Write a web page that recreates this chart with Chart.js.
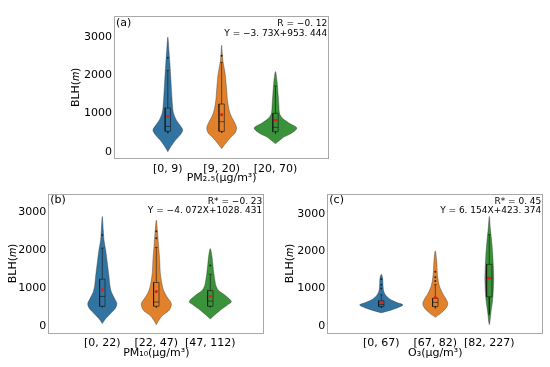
<!DOCTYPE html>
<html>
<head>
<meta charset="utf-8">
<script src="https://cdn.jsdelivr.net/npm/chart.js@4.4.1/dist/chart.umd.min.js"></script>
<style>
body { margin: 0; background: #fff; }
#wrap { position: relative; width: 550px; height: 367px; overflow: hidden; background: #fff; }
canvas { position: absolute; }
</style>
</head>
<body>
<div id="wrap">
  <canvas id="c_a" width="284" height="185" style="left:56px;top:0px;width:284px;height:185px"></canvas>
  <canvas id="c_b" width="275" height="182" style="left:0px;top:185px;width:275px;height:182px"></canvas>
  <canvas id="c_c" width="275" height="182" style="left:275px;top:185px;width:275px;height:182px"></canvas>
</div>
<script>
// shared
var blhTicks = [0, 1000, 2000, 3000];
var violinColors = ['#3274a1', '#e1812c', '#3a923a'];

// (a) PM2.5
var pm25Cats = ['[0, 9)', '[9, 20)', '[20, 70)'];
var pm25Levels = [
  [0, 140, 280, 420, 560, 680, 835, 1010, 1180, 1440, 1880, 2310, 2660, 2990],
  [80, 226, 357, 487, 617, 748, 922, 1096, 1357, 1705, 2053, 2356, 2560, 2780],
  [210, 278, 381, 492, 620, 748, 877, 1005, 1218, 1475, 1817, 2090]
];
var pm25Widths = [
  [0, 0.06, 0.13, 0.22, 0.277, 0.23, 0.155, 0.105, 0.088, 0.075, 0.057, 0.038, 0.02, 0],
  [0, 0.08, 0.157, 0.25, 0.277, 0.245, 0.18, 0.138, 0.107, 0.088, 0.063, 0.025, 0.012, 0],
  [0, 0.063, 0.157, 0.31, 0.396, 0.25, 0.126, 0.075, 0.063, 0.05, 0.031, 0]
];
var pm25Q1 = [530, 530, 522];
var pm25Median = [660, 783, 635];
var pm25Q3 = [1140, 1244, 1000];
var pm25Mean = [921, 965, 826];
var pm25WhiskLo = [480, 490, 470];
var pm25WhiskHi = [2120, 2330, 1710];
var pm25Outliers = [[2450], [2500], []];
var pm25Notes = ['R = \u22120. 12', 'Y = \u22123. 73X+953. 444'];

// (b) PM10
var pm10Cats = ['[0, 22)', '[22, 47)', '[47, 112)'];
var pm10Levels = [
  [60, 198, 328, 457, 586, 716, 888, 1060, 1319, 1664, 2009, 2268, 2526, 2890],
  [30, 155, 285, 414, 586, 759, 931, 1146, 1405, 1750, 2095, 2440, 2790],
  [181, 285, 414, 543, 640, 802, 931, 1060, 1190, 1362, 1578, 1836, 2040]
];
var pm10Widths = [
  [0, 0.068, 0.154, 0.24, 0.27, 0.23, 0.17, 0.142, 0.123, 0.093, 0.062, 0.031, 0.0185, 0],
  [0, 0.05, 0.123, 0.24, 0.278, 0.2, 0.136, 0.1, 0.074, 0.062, 0.043, 0.025, 0],
  [0, 0.08, 0.185, 0.31, 0.39, 0.28, 0.154, 0.105, 0.086, 0.068, 0.05, 0.031, 0]
];
var pm10Q1 = [517, 517, 517];
var pm10Median = [776, 629, 655];
var pm10Q3 = [1233, 1146, 931];
var pm10Mean = [957, 905, 776];
var pm10WhiskLo = [490, 480, 490];
var pm10WhiskHi = [2050, 2070, 1360];
var pm10Outliers = [[2400], [2310, 2500], [1595]];
var pm10Notes = ['R* = \u22120. 23', 'Y = \u22124. 072X+1028. 431'];

// (c) O3
var o3Cats = ['[0, 67)', '[67, 82)', '[82, 227)'];
var o3Levels = [
  [350, 400, 474, 560, 629, 716, 819, 931, 1103, 1276, 1380],
  [230, 328, 457, 586, 716, 845, 1017, 1190, 1405, 1750, 2009],
  [30, 112, 371, 629, 974, 1276, 1578, 1922, 2267, 2612, 2930]
];
var o3Widths = [
  [0, 0.126, 0.28, 0.40, 0.28, 0.157, 0.082, 0.044, 0.031, 0.025, 0],
  [0, 0.094, 0.19, 0.232, 0.2, 0.145, 0.088, 0.057, 0.038, 0.025, 0],
  [0, 0.012, 0.031, 0.057, 0.075, 0.082, 0.075, 0.063, 0.044, 0.019, 0]
];
var o3Q1 = [517, 517, 776];
var o3Median = [569, 629, 1276];
var o3Q3 = [672, 741, 1647];
var o3Mean = [629, 759, 1276];
var o3WhiskLo = [480, 470, 300];
var o3WhiskHi = [830, 1100, 2440];
var o3Outliers = [[1000, 1100, 1250], [1200, 1300, 1450], []];
var o3Notes = ['R* = 0. 45', 'Y = 6. 154X+423. 374'];

var FONT = '"DejaVu Sans", sans-serif';
var BOXW = 0.05;

// frame + corner texts
var framePlugin = {
  id: 'frame',
  afterDraw: function(chart, args, opts) {
    var ctx = chart.ctx, a = chart.chartArea;
    ctx.save();
    ctx.strokeStyle = '#a8a8a8';
    ctx.lineWidth = 1;
    ctx.strokeRect(Math.round(a.left) + 0.5, Math.round(a.top) + 0.5, Math.round(a.right - a.left) - 1, Math.round(a.bottom - a.top) - 1);
    ctx.fillStyle = '#000';
    ctx.textBaseline = 'middle';
    ctx.textAlign = 'left';
    ctx.font = '11px ' + FONT;
    ctx.fillText(opts.tag, a.left + 2, a.top + 7);
    ctx.textAlign = 'right';
    ctx.font = '9px ' + FONT;
    ctx.fillText(opts.notes[0], a.right - 2, a.top + 8);
    ctx.fillText(opts.notes[1], a.right - 2, a.top + 17.5);
    ctx.restore();
  }
};

function line(pts, color, width, order) {
  return { data: pts, showLine: true, fill: false, borderColor: color, borderWidth: width,
           pointRadius: 0, tension: 0, order: order };
}

function makePanel(id, p) {
  var datasets = [];
  for (var i = 0; i < 3; i++) {
    var pos = i + 1;
    var lv = p.levels[i], wd = p.widths[i];
    var right = [], left = [];
    for (var k = 0; k < lv.length; k++) {
      right.push({ x: pos + wd[k], y: lv[k] });
      left.unshift({ x: pos - wd[k], y: lv[k] });
    }
    var shape = right.concat(left.slice(1));
    datasets.push({ data: shape, showLine: true, fill: 'shape', backgroundColor: violinColors[i],
      borderColor: 'rgba(40,40,40,0.45)', borderWidth: 0.8, pointRadius: 0, tension: 0.3, order: 5 });
    // box
    datasets.push(line([
      { x: pos - BOXW, y: p.q1[i] }, { x: pos + BOXW, y: p.q1[i] },
      { x: pos + BOXW, y: p.q3[i] }, { x: pos - BOXW, y: p.q3[i] },
      { x: pos - BOXW, y: p.q1[i] }], 'rgba(20,20,20,0.75)', 0.8, 3));
    datasets.push(line([{ x: pos - BOXW, y: p.median[i] }, { x: pos + BOXW, y: p.median[i] }], 'rgba(20,20,20,0.75)', 0.8, 3));
    datasets.push(line([{ x: pos, y: p.q3[i] }, { x: pos, y: p.whiskHi[i] }], 'rgba(20,20,20,0.75)', 0.8, 3));
    datasets.push(line([{ x: pos, y: p.q1[i] }, { x: pos, y: p.whiskLo[i] }], 'rgba(20,20,20,0.75)', 0.8, 3));
    datasets.push(line([{ x: pos - 0.025, y: p.whiskHi[i] }, { x: pos + 0.025, y: p.whiskHi[i] }], 'rgba(20,20,20,0.75)', 0.8, 3));
    // outliers
    datasets.push({ data: p.outliers[i].map(function(v) { return { x: pos, y: v }; }),
      pointRadius: 1, pointBackgroundColor: '#222', pointBorderWidth: 0, order: 2 });
    // mean
    datasets.push({ data: [{ x: pos, y: p.mean[i] }], pointRadius: 1.6,
      pointBackgroundColor: '#e02020', pointBorderWidth: 0, order: 1 });
  }

  new Chart(document.getElementById(id), {
    type: 'scatter',
    data: { datasets: datasets },
    plugins: [framePlugin],
    options: {
      responsive: false,
      animation: false,
      devicePixelRatio: 1,
      layout: { padding: p.pad },
      plugins: {
        legend: { display: false },
        tooltip: { enabled: false },
        frame: { tag: p.tag, notes: p.notes }
      },
      scales: {
        x: {
          type: 'linear', min: 0, max: 4,
          afterFit: function(s) { s.height = p.xh; },
          afterBuildTicks: function(s) { s.ticks = [1, 2, 3].map(function(v) { return { value: v }; }); },
          ticks: { callback: function(v, idx) { return p.cats[idx]; }, color: '#000',
                   font: { size: 11, family: FONT }, padding: 3.5, maxRotation: 0, autoSkip: false },
          grid: { display: false, drawTicks: false },
          border: { display: false },
          title: { display: true, text: p.xTitle, color: '#000', font: { size: 11, family: FONT },
                   padding: { top: 0, bottom: p.xtPad } }
        },
        y: {
          type: 'linear', min: p.yMin, max: p.yMax,
          afterFit: function(s) { s.width = p.yw; },
          afterBuildTicks: function(s) { s.ticks = blhTicks.map(function(v) { return { value: v }; }); },
          ticks: { callback: function(v) { return String(v); }, color: '#000',
                   font: { size: 11, family: FONT }, padding: 2 },
          grid: { display: false, drawTicks: false },
          border: { display: false },
          title: { display: true, text: 'BLH(\ud835\udc5a)', color: '#000', font: { size: 11, family: FONT },
                   padding: { top: p.ytPad, bottom: 0 } }
        }
      }
    }
  });
}

makePanel('c_a', {
  cats: pm25Cats, levels: pm25Levels, widths: pm25Widths, q1: pm25Q1, median: pm25Median, q3: pm25Q3,
  mean: pm25Mean, whiskLo: pm25WhiskLo, whiskHi: pm25WhiskHi, outliers: pm25Outliers,
  notes: pm25Notes, tag: '(a)', xTitle: 'PM\u2082.\u2085(\u03bcg/m\u00b3)',
  pad: { left: 0, top: 16, right: 10.7, bottom: 0 }, yw: 58, xh: 26.3, ytPad: 13.4, xtPad: 0.7,
  yMin: -183, yMax: 3540
});
makePanel('c_b', {
  cats: pm10Cats, levels: pm10Levels, widths: pm10Widths, q1: pm10Q1, median: pm10Median, q3: pm10Q3,
  mean: pm10Mean, whiskLo: pm10WhiskLo, whiskHi: pm10WhiskHi, outliers: pm10Outliers,
  notes: pm10Notes, tag: '(b)', xTitle: 'PM\u2081\u2080(\u03bcg/m\u00b3)',
  pad: { left: 0, top: 6, right: 10.7, bottom: 0 }, yw: 48.3, xh: 33.7, ytPad: 6.7, xtPad: 7.1,
  yMin: -197, yMax: 3492
});
makePanel('c_c', {
  cats: o3Cats, levels: o3Levels, widths: o3Widths, q1: o3Q1, median: o3Median, q3: o3Q3,
  mean: o3Mean, whiskLo: o3WhiskLo, whiskHi: o3WhiskHi, outliers: o3Outliers,
  notes: o3Notes, tag: '(c)', xTitle: 'O\u2083(\u03bcg/m\u00b3)',
  pad: { left: 0, top: 5, right: 6.7, bottom: 0 }, yw: 52.3, xh: 33.7, ytPad: 8.4, xtPad: 7.1,
  yMin: -199, yMax: 3540
});
</script>
</body>
</html>
